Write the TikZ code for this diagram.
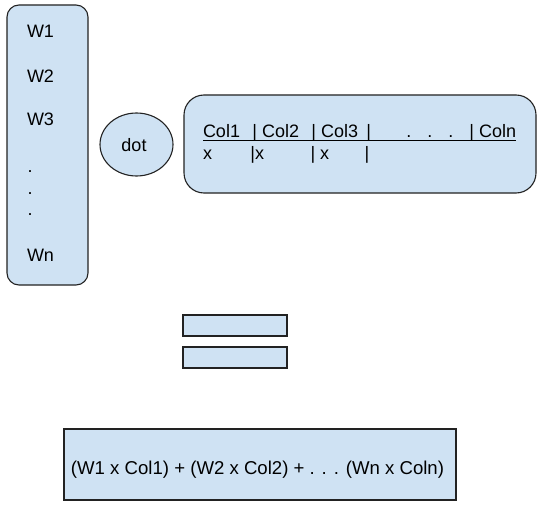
\documentclass[tikz,border=0pt]{standalone}
\usepackage{fontspec}
\setmainfont{Liberation Sans}
\usetikzlibrary{shapes.geometric}
\definecolor{boxblue}{HTML}{CFE2F3}
\definecolor{edge}{HTML}{222222}
\begin{document}
\begin{tikzpicture}[x=1pt,y=-1pt,
  shapebox/.style={draw=edge,fill=boxblue,line width=1.1pt,inner sep=0pt,outer sep=0pt},
  lbl/.style={inner sep=0pt,outer sep=0pt,anchor=base west,font=\fontsize{18}{22}\selectfont},
  clbl/.style={inner sep=0pt,outer sep=0pt,anchor=base,font=\fontsize{18}{22}\selectfont}]
\useasboundingbox (0,0) rectangle (545,513);
% shapes
\node[shapebox,rounded corners=12pt,minimum width=81pt,minimum height=280pt] (wbox) at (47.5,145) {};
\node[shapebox,ellipse,minimum width=73pt,minimum height=63pt] (dotell) at (136.5,144.5) {};
\node[shapebox,rounded corners=20pt,minimum width=352pt,minimum height=98pt] (colbox) at (360,144) {};
\node[shapebox,minimum width=104pt,minimum height=21pt] (bartop) at (235,325.5) {};
\node[shapebox,minimum width=104pt,minimum height=21pt] (barbot) at (235,357.5) {};
\node[shapebox,minimum width=392pt,minimum height=71pt] (sumbox) at (260,464.5) {};
% weight labels
\node[lbl] (w1) at (27,38) {W1};
\node[lbl] (w2) at (27,83) {W2};
\node[lbl] (w3) at (27,126) {W3};
\node[lbl] (d1) at (27.5,172) {.};
\node[lbl] (d2) at (27.5,194) {.};
\node[lbl] (d3) at (27.5,215) {.};
\node[lbl] (wn) at (27,261) {Wn};
% dot
\node[clbl] (dottxt) at (134,152) {dot};
% columns
\node[lbl] (colhead) at (203,138) {\rlap{\rule[-3pt]{313pt}{1pt}}\makebox[49.5pt][l]{Col1}\makebox[59pt][l]{| Col2}\makebox[55pt][l]{| Col3}\makebox[103pt][l]{|\hspace{35.3pt}.\hspace{16pt}.\hspace{16pt}.}| Coln};
\node[lbl] (colrow) at (203,160) {\makebox[47.5pt][l]{x}\makebox[60pt][l]{|x}\makebox[54pt][l]{| x}|};
% sum
\node[clbl,font=\fontsize{18.6}{22}\selectfont] (sumtxt) at (257.5,474) {(W1 x Col1) + (W2 x Col2) + . . . (Wn x Coln)};
\end{tikzpicture}
\end{document}
